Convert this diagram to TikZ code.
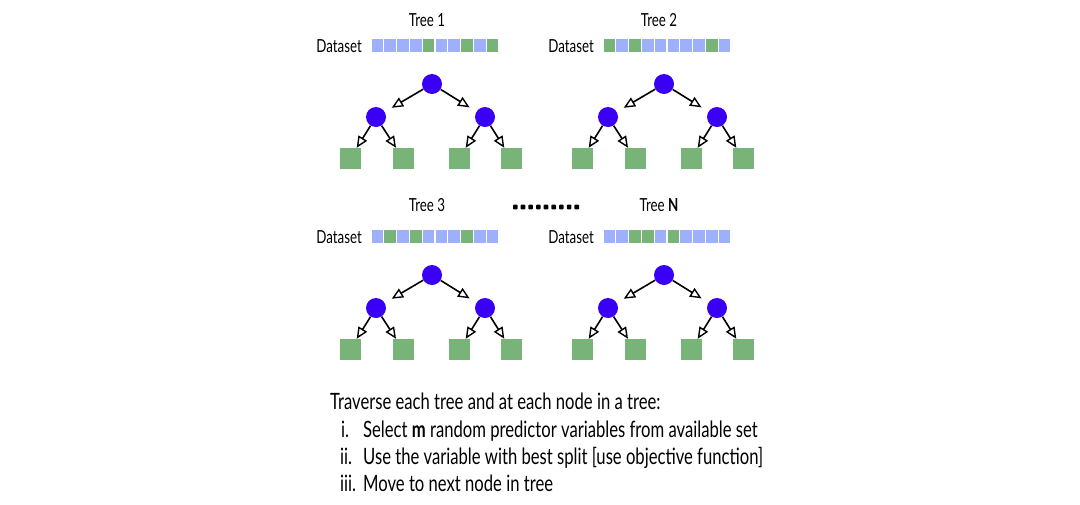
\documentclass[tikz,border=0pt]{standalone}
\usepackage{fontspec}
\setmainfont{Lato}[FakeStretch=0.74]
\usetikzlibrary{arrows.meta}
\definecolor{nodeblue}{HTML}{3A00F5}
\definecolor{cellblue}{HTML}{9EAFFC}
\definecolor{cellgreen}{HTML}{78B478}
\definecolor{leafgreen}{HTML}{78B478}
\tikzset{
  inner/.style={circle,fill=nodeblue,minimum size=20pt,inner sep=0pt},
  leaf/.style={rectangle,fill=leafgreen,minimum size=21pt,inner sep=0pt},
  cellB/.style={rectangle,fill=cellblue,minimum width=11.6pt,minimum height=13pt,inner sep=0pt},
  cellG/.style={rectangle,fill=cellgreen,minimum width=11.6pt,minimum height=13pt,inner sep=0pt},
  edge/.style={line width=1.6pt,-{Triangle[length=11.5pt,width=10pt,fill=white,line width=1.4pt]}},
  rootedge/.style={edge,shorten >=8pt},
  lbl/.style={font=\fontsize{18}{20}\selectfont,anchor=base,inner sep=0pt},
  txt/.style={font=\fontsize{22.5}{26}\selectfont,anchor=base west,inner sep=0pt},
  dot/.style={rectangle,fill=black,minimum size=4.6pt,inner sep=0pt,rounded corners=0.8pt}
}
\newcommand\rftree[5]{% #1 name, #2 dx, #3 dy, #4 title dy, #5 cells
  \begin{scope}[shift={(#2,#3)}]
    \node[lbl] (#1title) at (427,{26+#4}) {Tree \csname tn#1\endcsname};
    \node[lbl,anchor=base east] (#1ds) at (362,52) {Dataset};
    \foreach \c [count=\i from 0] in {#5} {
      \node[cell\c] (#1c\i) at ({371+12.8*\i+6.4},45.5) {};
    }
    \node[inner] (#1r) at (432,84) {};
    \node[inner] (#1a) at (376,117) {};
    \node[inner] (#1b) at (485,117) {};
    \node[leaf] (#1l1) at (350,158.5) {};
    \node[leaf] (#1l2) at (403,158.5) {};
    \node[leaf] (#1l3) at (459,158.5) {};
    \node[leaf] (#1l4) at (511,158.5) {};
    \draw[rootedge] (#1r) -- (#1a);
    \draw[rootedge] (#1r) -- (#1b);
    \draw[edge] (#1a) -- (#1l1);
    \draw[edge] (#1a) -- (#1l2);
    \draw[edge] (#1b) -- (#1l3);
    \draw[edge] (#1b) -- (#1l4);
  \end{scope}
}
\newcommand\tnA{1}
\newcommand\tnB{2}
\newcommand\tnC{3}
\newcommand\tnD{\textbf{N}}
\begin{document}
\begin{tikzpicture}[x=1pt,y=-1pt]
  \useasboundingbox[fill=white] (0,0) rectangle (1080,504);
  \rftree{A}{0}{0}{0}{B,B,B,B,G,B,B,G,B,G}
  \rftree{B}{232}{0}{0}{G,B,G,B,B,B,B,B,G,B}
  \rftree{C}{0}{191}{-6}{B,G,B,G,B,B,B,G,B,B}
  \rftree{D}{232}{191}{-6}{B,B,G,G,B,G,B,B,B,B}
  \foreach \i in {0,...,8} {
    \node[dot] (dot\i) at ({515.3+7.68*\i},207) {};
  }
  \node[txt] (t0) at (330,409) {Traverse each tree and at each node in a tree:};
  \node[txt] (n1) at (341,437) {i.};
  \node[txt] (s1) at (363,437) {Select \textbf{m} random predictor variables from available set};
  \node[txt] (n2) at (340,464) {ii.};
  \node[txt] (s2) at (363,464) {Use the variable with best split [use objective function]};
  \node[txt] (n3) at (340,491) {iii.};
  \node[txt] (s3) at (363,491) {Move to next node in tree};
\end{tikzpicture}
\end{document}
